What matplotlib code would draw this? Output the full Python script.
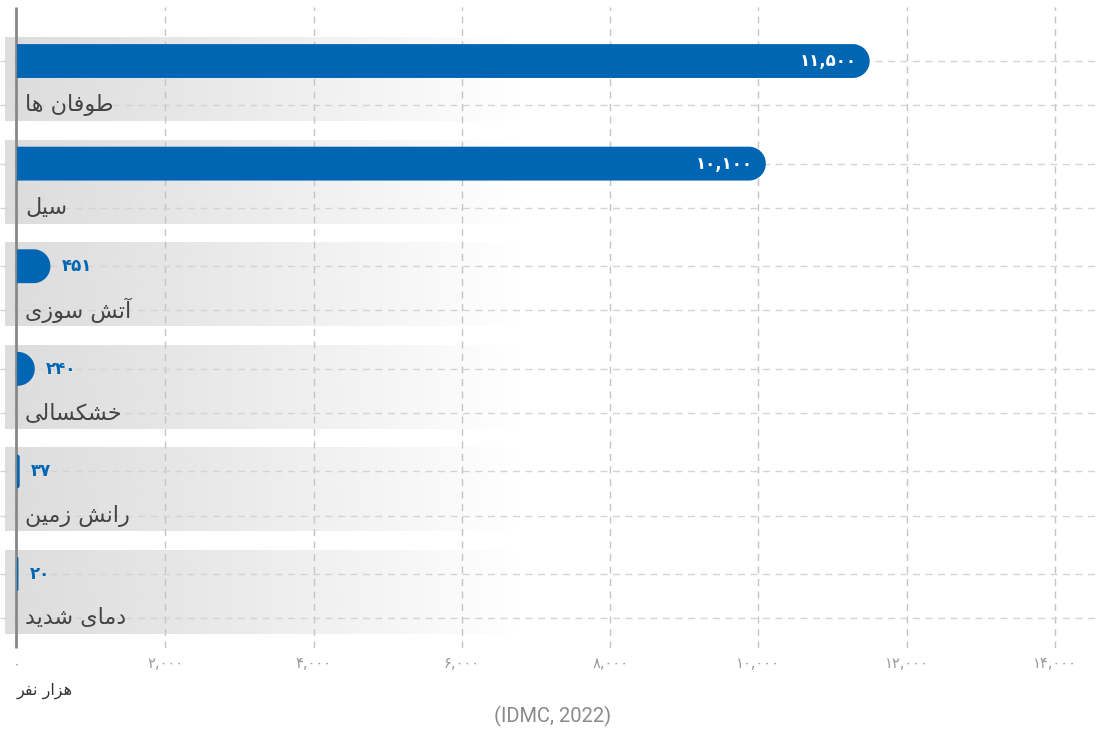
import numpy as np
import matplotlib
matplotlib.use('Agg')
import matplotlib.pyplot as plt
from matplotlib.patches import Polygon

# ---------------- data ----------------
categories = ['طوفان ها', 'سیل', 'آتش سوزی', 'خشکسالی', 'رانش زمین', 'دمای شدید']
values = [11500, 10100, 451, 240, 37, 20]
xticks = [0, 2000, 4000, 6000, 8000, 10000, 12000, 14000]
unit_label = 'هزار نفر'
source_text = '(IDMC, 2022)'

# ---------------- Persian shaping helpers ----------------
# (isolated, final, initial, medial); right-joining letters have no initial/medial
FORMS = {
    'ا': ('\uFE8D', '\uFE8E', None, None),
    'آ': ('\uFE81', '\uFE82', None, None),
    'ت': ('\uFE95', '\uFE96', '\uFE97', '\uFE98'),
    'خ': ('\uFEA5', '\uFEA6', '\uFEA7', '\uFEA8'),
    'د': ('\uFEA9', '\uFEAA', None, None),
    'ر': ('\uFEAD', '\uFEAE', None, None),
    'ز': ('\uFEAF', '\uFEB0', None, None),
    'س': ('\uFEB1', '\uFEB2', '\uFEB3', '\uFEB4'),
    'ش': ('\uFEB5', '\uFEB6', '\uFEB7', '\uFEB8'),
    'ط': ('\uFEC1', '\uFEC2', '\uFEC3', '\uFEC4'),
    'ف': ('\uFED1', '\uFED2', '\uFED3', '\uFED4'),
    'ل': ('\uFEDD', '\uFEDE', '\uFEDF', '\uFEE0'),
    'م': ('\uFEE1', '\uFEE2', '\uFEE3', '\uFEE4'),
    'ن': ('\uFEE5', '\uFEE6', '\uFEE7', '\uFEE8'),
    'ه': ('\uFEE9', '\uFEEA', '\uFEEB', '\uFEEC'),
    'و': ('\uFEED', '\uFEEE', None, None),
    'ک': ('\uFB8E', '\uFB8F', '\uFB90', '\uFB91'),
    'ی': ('\uFBFC', '\uFBFD', '\uFBFE', '\uFBFF'),
}


def shape(text):
    out = []
    n = len(text)
    for i, ch in enumerate(text):
        if ch not in FORMS:
            out.append(ch)
            continue
        f = FORMS[ch]
        prev = text[i - 1] if i > 0 else None
        nxt = text[i + 1] if i < n - 1 else None
        jp = prev in FORMS and FORMS[prev][2] is not None
        jn = f[2] is not None and nxt in FORMS
        if jp and jn:
            out.append(f[3])
        elif jp:
            out.append(f[1])
        elif jn:
            out.append(f[2])
        else:
            out.append(f[0])
    return ''.join(reversed(out))


FA_DIGITS = str.maketrans('0123456789', '۰۱۲۳۴۵۶۷۸۹')


def fa_num(v):
    return f'{v:,}'.translate(FA_DIGITS)


# ---------------- figure ----------------
plt.rcParams['font.family'] = ['DejaVu Sans']
fig = plt.figure(figsize=(10.96, 7.32), dpi=100)
ax = fig.add_axes([0, (732 - 648) / 732, 1, 641 / 732])

xlim = (-229, 14553)
ylim = (5.541, -0.7066)
ax.set_xlim(*xlim)
ax.set_ylim(*ylim)

BLUE = '#0066b3'
band_h = 0.81
bar_off = -0.18
bar_h = 0.33
lab_off = 0.25

y = np.arange(len(categories))

# gradient bands
grad_w = 256
alpha = np.clip(1 - np.linspace(0, 1, grad_w) ** 1.15, 0, 1)
rgba = np.zeros((1, grad_w, 4))
rgba[..., :3] = 221 / 255
rgba[..., 3] = alpha
for yi in y:
    ax.imshow(rgba, extent=(-162, 6750, yi + band_h / 2, yi - band_h / 2),
              aspect='auto', interpolation='bilinear', zorder=0.5)
ax.set_xlim(*xlim)
ax.set_ylim(*ylim)

# grid
for xt in xticks[1:]:
    ax.axvline(xt, color='#c4c4c4', lw=1, ls=(0, (5, 4)), zorder=1)
for yi in y:
    for off in (bar_off, lab_off):
        ax.axhline(yi + off, color='#d4d4d4', lw=1, ls=(0, (5, 4)), zorder=1)

# scale between data units and pixels
p0 = ax.transData.transform((0, 0))
p1 = ax.transData.transform((1, 1))
sx = abs(p1[0] - p0[0])
sy = abs(p1[1] - p0[1])
px = 1 / sx

# axis line at zero (drawn just left of zero, under the bars)
ax.plot([-px, -px], [ylim[0], ylim[1]], color='#888888', lw=2, zorder=2,
        solid_capstyle='butt', clip_on=False)

hh = bar_h / 2
r_data = hh * sy / sx
q = np.linspace(0, np.pi / 2, 30)
for yi, v in zip(y, values):
    yc = yi + bar_off
    rx = min(r_data, v)
    ry = rx * sx / sy
    cx = v - rx
    # bottom-right corner (y smaller) then top-right corner
    bx = cx + rx * np.sin(q)
    by = (yc - hh + ry) - ry * np.cos(q)
    tx = cx + rx * np.cos(q)
    ty = (yc + hh - ry) + ry * np.sin(q)
    xs = np.concatenate([[0], bx, tx, [0]])
    ys = np.concatenate([[yc - hh], by, ty, [yc + hh]])
    ax.add_patch(Polygon(np.column_stack([xs, ys]), closed=True,
                         facecolor=BLUE, edgecolor='none', zorder=3))
    if v > 2000:
        ax.annotate(fa_num(v), (v, yc), xytext=(-13, 0), textcoords='offset pixels',
                    ha='right', va='center', color='white', fontsize=12,
                    fontweight='bold', zorder=5)
    else:
        ax.annotate(fa_num(v), (v, yc), xytext=(11, 0), textcoords='offset pixels',
                    ha='left', va='center', color=BLUE, fontsize=12,
                    fontweight='bold', zorder=5)
    ax.annotate(shape(categories[yi]), (0, yi + lab_off), xytext=(8, 0),
                textcoords='offset pixels', ha='left', va='center',
                color='#444444', fontsize=16, zorder=5)

ax.set_xticks(xticks)
ax.set_xticklabels([fa_num(v) for v in xticks], color='#9a9a9a', fontsize=10.5)
ax.tick_params(axis='x', length=0, pad=6)
ax.set_yticks([])
for s in ax.spines.values():
    s.set_visible(False)
ax.patch.set_alpha(0)

x0_fig = ax.transData.transform((0, 0))[0] / fig.bbox.width
fig.text(x0_fig, 1 - 691 / 732, shape(unit_label), ha='left', va='center',
         color='#333333', fontsize=11.5)
fig.text(553 / 1096, 1 - 716 / 732, source_text, ha='center', va='center',
         color='#8a8a8a', fontsize=14.5, family=['Roboto', 'DejaVu Sans'])

fig.savefig('out.png', dpi=100)
